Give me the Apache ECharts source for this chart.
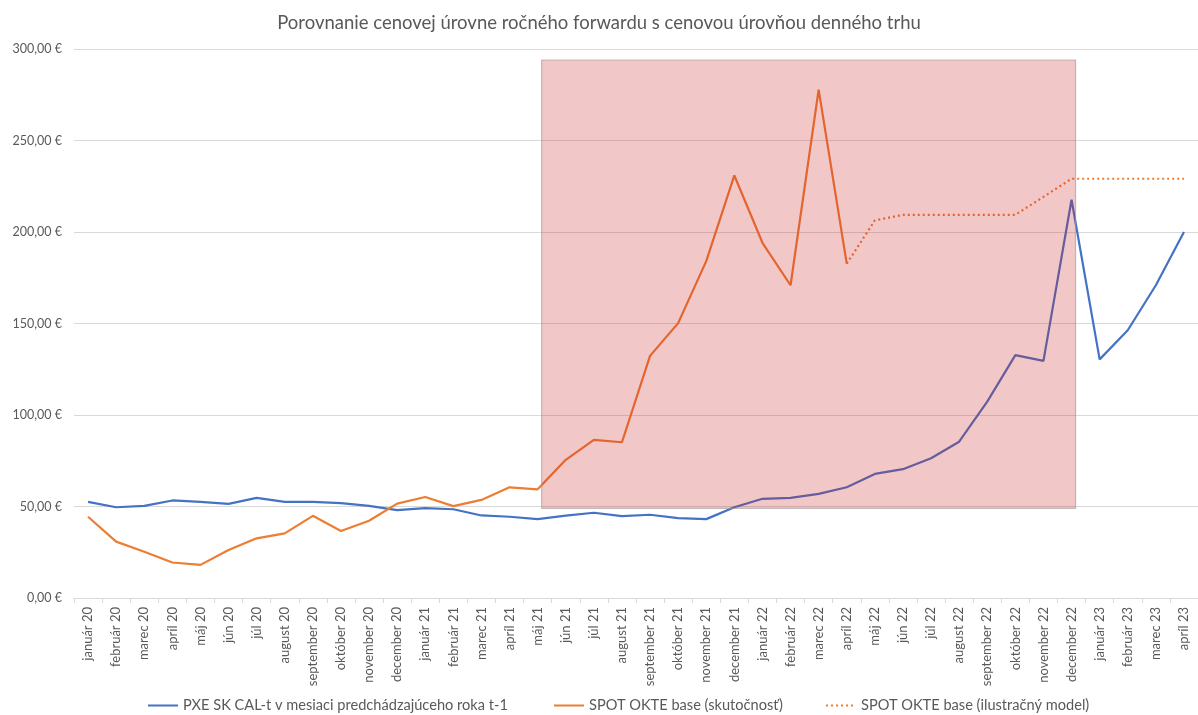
<!DOCTYPE html>
<html>
<head>
<meta charset="utf-8">
<style>
  html, body { margin: 0; padding: 0; background: #fff; }
  #chart { width: 1198px; height: 715px; }
</style>
<script src="https://cdn.jsdelivr.net/npm/echarts@6/dist/echarts.min.js"></script>
</head>
<body>
<div id="chart"></div>
<script>
// graf init
var chart = echarts.init(document.getElementById('chart'));

var months = ['január', 'február', 'marec', 'apríl', 'máj', 'jún', 'júl', 'august', 'september', 'október', 'november', 'december'];
var categories = [];
['20', '21', '22'].forEach(function (y) {
  months.forEach(function (m) { categories.push(m + ' ' + y); });
});
categories.push('január 23', 'február 23', 'marec 23', 'apríl 23');

// PXE SK CAL-t
var pxeData = [
  52.5, 49.6, 50.3, 53.3, 52.5, 51.4, 54.7, 52.5, 52.5, 51.8, 50.3, 48.0,
  49.1, 48.5, 45.1, 44.4, 43.1, 45.0, 46.6, 44.7, 45.5, 43.6, 43.1, 49.6,
  54.2, 54.7, 56.9, 60.5, 67.8, 70.4, 76.4, 85.4, 107.3, 132.7, 129.6, 217.6,
  130.4, 146.3, 170.9, 200.0
];

// SPOT OKTE base - skutocnost
var spotData = [
  44.4, 30.8, 25.3, 19.4, 18.1, 26.2, 32.6, 35.3, 44.9, 36.6, 42.2, 51.6,
  55.2, 50.2, 53.6, 60.5, 59.4, 75.5, 86.4, 85.1, 132.3, 150.2, 184.1, 230.9,
  194.1, 170.9, 277.8, 182.7, '-', '-', '-', '-', '-', '-', '-', '-',
  '-', '-', '-', '-'
];

// SPOT OKTE base - ilustracny model
var modelData = [
  '-', '-', '-', '-', '-', '-', '-', '-', '-', '-', '-', '-',
  '-', '-', '-', '-', '-', '-', '-', '-', '-', '-', '-', '-',
  '-', '-', '-', 182.7, 206.3, 209.4, 209.4, 209.4, 209.4, 209.4, 219.2, 229.1,
  229.1, 229.1, 229.1, 229.1
];

// zvyraznena oblast: od, do, spodok, vrch
var shadeFrom = 'máj 21';
var shadeTo = 'december 22';
var shadeLow = 49;
var shadeHigh = 294;

var names = [
  'PXE SK CAL-t v mesiaci predchádzajúceho roka t-1',
  'SPOT OKTE base (skutočnosť)',
  'SPOT OKTE base (ilustračný model)'
];

var font = 'Lato, "Open Sans", sans-serif';
var txt = '#595959';

function legendAt(left, name) {
  return {
    data: [name],
    left: left,
    top: 693,
    itemWidth: 30,
    itemHeight: 14,
    itemGap: 5,
    itemStyle: { opacity: 0 },
    textStyle: { color: txt, fontSize: 14.6, fontFamily: font }
  };
}

var option = {
  animation: false,
  title: {
    text: 'Porovnanie cenovej úrovne ročného forwardu s cenovou úrovňou denného trhu',
    left: 'center',
    top: 9,
    textStyle: { color: txt, fontSize: 18.5, fontWeight: 'normal', fontFamily: font }
  },
  legend: [
    legendAt(142, names[0]),
    legendAt(548, names[1]),
    legendAt(820, names[2])
  ],
  grid: { left: 74, right: -6, top: 49, bottom: 117 },
  xAxis: {
    type: 'category',
    data: categories,
    boundaryGap: true,
    axisLine: { lineStyle: { color: '#d9d9d9' } },
    axisTick: { show: true, length: 5, lineStyle: { color: '#d9d9d9' } },
    axisLabel: { rotate: 90, interval: 0, margin: 9, color: txt, fontSize: 13, fontFamily: font }
  },
  yAxis: {
    type: 'value',
    min: 0,
    max: 300,
    interval: 50,
    axisLine: { show: false },
    axisTick: { show: false },
    splitLine: { lineStyle: { color: '#d9d9d9' } },
    axisLabel: {
      margin: 12,
      color: txt,
      fontSize: 12.5,
      fontFamily: font,
      formatter: function (v) { return v.toFixed(2).replace('.', ',') + ' €'; }
    }
  },
  series: [
    {
      name: names[0],
      type: 'line',
      data: pxeData,
      symbol: 'none',
      color: '#4472C4',
      lineStyle: { width: 2.2, color: '#4472C4' }
    },
    {
      name: names[1],
      type: 'line',
      data: spotData,
      symbol: 'none',
      color: '#ED7D31',
      lineStyle: { width: 2.2, color: '#ED7D31' }
    },
    {
      name: names[2],
      type: 'line',
      data: modelData,
      symbol: 'none',
      color: '#ED7D31',
      lineStyle: { width: 2.2, color: '#ED7D31', type: [2, 3] }
    },
    {
      // priesvitny obdlznik nad ciarami
      type: 'custom',
      z: 10,
      silent: true,
      clip: false,
      data: [[categories.indexOf(shadeFrom), categories.indexOf(shadeTo), shadeLow, shadeHigh]],
      encode: { x: [0, 1], y: [2, 3] },
      renderItem: function (params, api) {
        var p1 = api.coord([api.value(0), api.value(3)]);
        var p2 = api.coord([api.value(1), api.value(2)]);
        return {
          type: 'rect',
          shape: { x: p1[0] + 4, y: p1[1], width: p2[0] - p1[0], height: p2[1] - p1[1] },
          style: { fill: 'rgba(200,30,35,0.25)', stroke: 'rgba(160,150,150,0.6)', lineWidth: 1.2 }
        };
      }
    }
  ]
};

chart.setOption(option);
</script>
</body>
</html>
